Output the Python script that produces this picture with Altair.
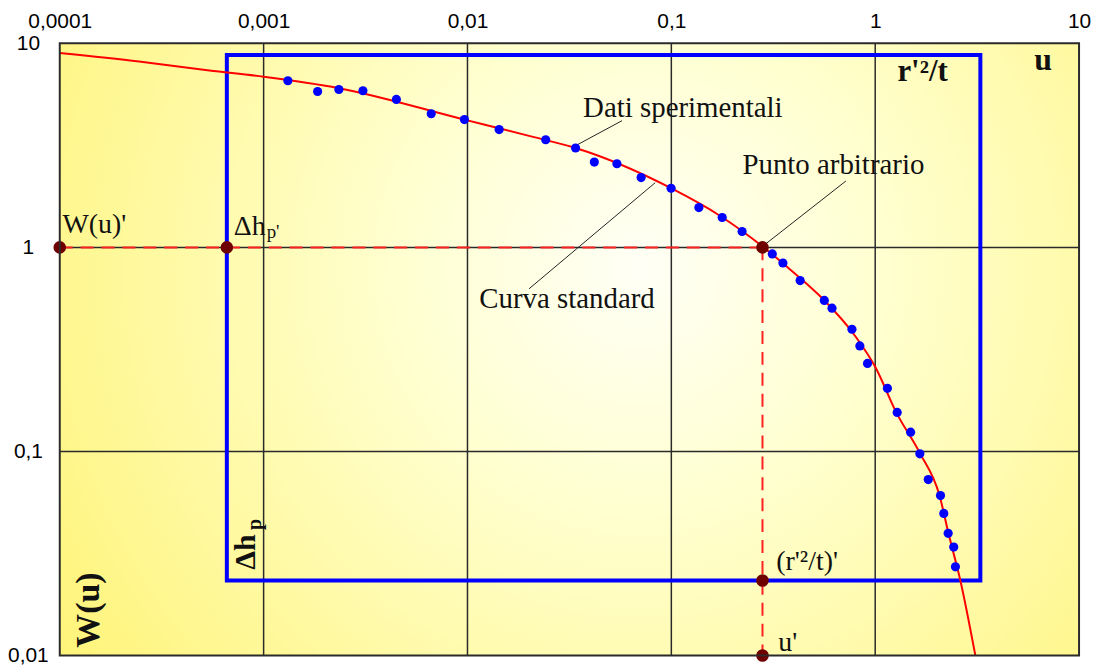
import altair as alt
import pandas as pd

# ---------------- data ----------------
# experimental points (u, W)
data_u = [0.001315, 0.00184, 0.00234, 0.00307, 0.00448, 0.00664, 0.00966, 0.0143,
          0.0242, 0.0339, 0.0419, 0.0541, 0.0711, 0.0997, 0.1365, 0.1776, 0.2224,
          0.3128, 0.3527, 0.4283, 0.563, 0.614, 0.769, 0.841, 0.917, 1.148, 1.282,
          1.492, 1.656, 1.821, 2.091, 2.170, 2.280, 2.428, 2.475]
data_W = [6.56, 5.81, 5.94, 5.86, 5.31, 4.52, 4.23, 3.78,
          3.37, 3.07, 2.62, 2.57, 2.20, 1.95, 1.567, 1.401, 1.197,
          0.929, 0.839, 0.688, 0.550, 0.504, 0.397, 0.329, 0.270, 0.204, 0.1553,
          0.1243, 0.0974, 0.0728, 0.0608, 0.0497, 0.0397, 0.0340, 0.0272]

# standard curve (u, W)
curve_u = [0.0001, 0.000245, 0.000542, 0.001, 0.00234, 0.00966, 0.0212, 0.0339,
           0.0997, 0.173, 0.284, 0.38, 0.553, 0.804, 1.0, 1.27, 1.656, 2.068,
           2.288, 2.62, 3.10]
curve_W = [8.96, 8.14, 7.36, 6.86, 6.03, 4.23, 3.47, 3.07,
           1.95, 1.43, 1.0, 0.784, 0.56, 0.364, 0.26, 0.155, 0.0982, 0.0608,
           0.0397, 0.0232, 0.01]

# match point and overlay rectangle
rect_u = [0.00066, 3.28]
rect_W = [0.0233, 8.78]
marker_u = [0.0001, 0.00066, 0.28, 0.28, 0.28]
marker_W = [1.0, 1.0, 1.0, 0.0233, 0.01]

# dashed construction lines (u1, W1, u2, W2)
dash_u1 = [0.0001, 0.28]
dash_W1 = [1.0, 1.0]
dash_u2 = [0.28, 0.28]
dash_W2 = [1.0, 0.01]

# leader lines for the callouts
lead_u1 = [0.0573, 0.02005, 0.7185]
lead_W1 = [4.18, 0.627, 2.116]
lead_u2 = [0.0335, 0.0833, 0.283]
lead_W2 = [3.13, 2.075, 1.02]

# axis ticks
x_ticks = [0.0001, 0.001, 0.01, 0.1, 1, 10]
x_tick_labels = ["0,0001", "0,001", "0,01", "0,1", "1", "10"]
y_ticks = [0.01, 0.1, 1, 10]
y_tick_labels = ["0,01", "0,1", "1", "10"]
x_grid = [0.001, 0.01, 0.1, 1]
y_grid = [0.1, 1]

# annotations: text, u, W, font size, weight, angle, align, baseline
annotations = [
    ("Dati sperimentali", 0.0369, 4.34, 29, "normal", 0, "left", "alphabetic"),
    ("Punto arbitrario", 0.2232, 2.28, 29, "normal", 0, "left", "alphabetic"),
    ("Curva standard", 0.0829, 0.502, 29, "normal", 0, "right", "alphabetic"),
    ("W(u)'", 0.0001032, 1.18, 28, "normal", 0, "left", "alphabetic"),
    ("Δh", 0.000714, 1.153, 28, "normal", 0, "left", "alphabetic"),
    ("p'", 0.001035, 1.11, 19, "normal", 0, "left", "alphabetic"),
    ("(r'²/t)'", 0.327, 0.0262, 28, "normal", 0, "left", "alphabetic"),
    ("u'", 0.3345, 0.01054, 28, "normal", 0, "left", "alphabetic"),
    ("r'²/t", 1.285, 6.51, 31, "bold", 0, "left", "alphabetic"),
    ("u", 6.66, 7.42, 32, "bold", 0, "center", "alphabetic"),
    ("W(u)", 0.0001397, 0.0167, 34, "bold", 270, "center", "middle"),
    ("Δh", 0.000817, 0.0321, 30, "bold", 270, "center", "middle"),
    ("p", 0.000904, 0.0439, 20, "bold", 270, "center", "middle"),
]

# ---------------- chart ----------------
PW, PH = 1024, 615
SERIF = "Liberation Serif"


def label_expr(vals, labels):
    parts = [f"abs(datum.value - {v}) < {v * 0.01} ? '{l}'" for v, l in zip(vals, labels)]
    return " : ".join(parts) + " : ''"


xscale = alt.Scale(type="log", domain=[0.0001, 10], nice=False, zero=False)
yscale = alt.Scale(type="log", domain=[0.01, 10], nice=False, zero=False)
xaxis = alt.Axis(orient="top", values=x_ticks, labelExpr=label_expr(x_ticks, x_tick_labels),
                 grid=False, domain=False, ticks=False, tickSize=0, labelPadding=16,
                 labelBaseline="alphabetic", labelFont="Liberation Sans", labelFontSize=21,
                 labelColor="#000000", labelFlush=False, labelOverlap=False, labelBound=False,
                 title=None)
yaxis = alt.Axis(orient="left", values=y_ticks, labelExpr=label_expr(y_ticks, y_tick_labels),
                 grid=False, domain=False, ticks=False, tickSize=0, labelPadding=32,
                 labelAlign="center", labelBaseline="middle", labelFont="Liberation Sans",
                 labelFontSize=21, labelColor="#000000", labelFlush=False, labelOverlap=False,
                 labelBound=False, title=None)


def X(f):
    return alt.X(f"{f}:Q", scale=xscale, axis=xaxis)


def Y(f):
    return alt.Y(f"{f}:Q", scale=yscale, axis=yaxis)


one = pd.DataFrame({"k": [0]})

background = alt.Chart(one).mark_rect(
    fill={"gradient": "radial", "x1": 0.57, "y1": 0.42, "r1": 0.0,
          "x2": 0.57, "y2": 0.42, "r2": 0.68,
          "stops": [{"offset": 0.0, "color": "#FFFFF6"},
                    {"offset": 0.35, "color": "#FFFFD0"},
                    {"offset": 1.0, "color": "#FFF47A"}]}
).encode(x=alt.value(0), x2=alt.value(PW), y=alt.value(0), y2=alt.value(PH))

grid_v = alt.Chart(pd.DataFrame({"g": x_grid})).mark_rule(color="#2a2a2a", strokeWidth=1.5).encode(
    x=X("g"), y=alt.value(0), y2=alt.value(PH))
grid_h = alt.Chart(pd.DataFrame({"g": y_grid})).mark_rule(color="#2a2a2a", strokeWidth=1.5).encode(
    y=Y("g"), x=alt.value(0), x2=alt.value(PW))

rect_df = pd.DataFrame({"u1": [rect_u[0]], "u2": [rect_u[1]], "w1": [rect_W[0]], "w2": [rect_W[1]]})
blue_rect = alt.Chart(rect_df).mark_rect(fillOpacity=0, stroke="#0000FF", strokeWidth=4).encode(
    x=X("u1"), x2="u2", y=Y("w1"), y2="w2")

dash_df = pd.DataFrame({"u1": dash_u1, "w1": dash_W1, "u2": dash_u2, "w2": dash_W2})
dashes = alt.Chart(dash_df).mark_rule(color="#FF2020", strokeWidth=2, strokeDash=[13, 8]).encode(
    x=X("u1"), x2="u2", y=Y("w1"), y2="w2")

lead_df = pd.DataFrame({"u1": lead_u1, "w1": lead_W1, "u2": lead_u2, "w2": lead_W2})
leaders = alt.Chart(lead_df).mark_rule(color="#222222", strokeWidth=1).encode(
    x=X("u1"), x2="u2", y=Y("w1"), y2="w2")

curve_df = pd.DataFrame({"u": curve_u, "W": curve_W})
curve = alt.Chart(curve_df).mark_line(color="#FF0000", strokeWidth=2, interpolate="monotone",
                                      clip=True).encode(x=X("u"), y=Y("W"), order="u:Q")

pts_df = pd.DataFrame({"u": data_u, "W": data_W})
points = alt.Chart(pts_df).mark_point(filled=True, shape="circle", size=85, color="#0000FF",
                                      opacity=1).encode(x=X("u"), y=Y("W"))

mk_df = pd.DataFrame({"u": marker_u, "W": marker_W})
markers = alt.Chart(mk_df).mark_point(filled=True, shape="circle", size=160, color="#6E0000",
                                      opacity=1).encode(x=X("u"), y=Y("W"))

texts = []
for t, u, w, fs, fw, ang, al, bl in annotations:
    df = pd.DataFrame({"t": [t], "u": [u], "W": [w]})
    texts.append(alt.Chart(df).mark_text(font=SERIF, fontSize=fs, fontWeight=fw, angle=ang,
                                         align=al, baseline=bl, color="#111111").encode(
        x=X("u"), y=Y("W"), text="t:N"))

frame = alt.Chart(one).mark_rect(fillOpacity=0, stroke="#2b2b2b", strokeWidth=2).encode(
    x=alt.value(0), x2=alt.value(PW), y=alt.value(0), y2=alt.value(PH))

chart = alt.layer(
    background, grid_v, grid_h, blue_rect, dashes, leaders, curve, points, markers, *texts, frame
).properties(
    width=PW, height=PH,
    padding={"left": 52, "top": 34, "right": 12, "bottom": 9},
    autosize=alt.AutoSizeParams(type="none"),
).configure_view(stroke="transparent")

chart.save("out.html", embed_options={"renderer": "svg", "actions": False})
